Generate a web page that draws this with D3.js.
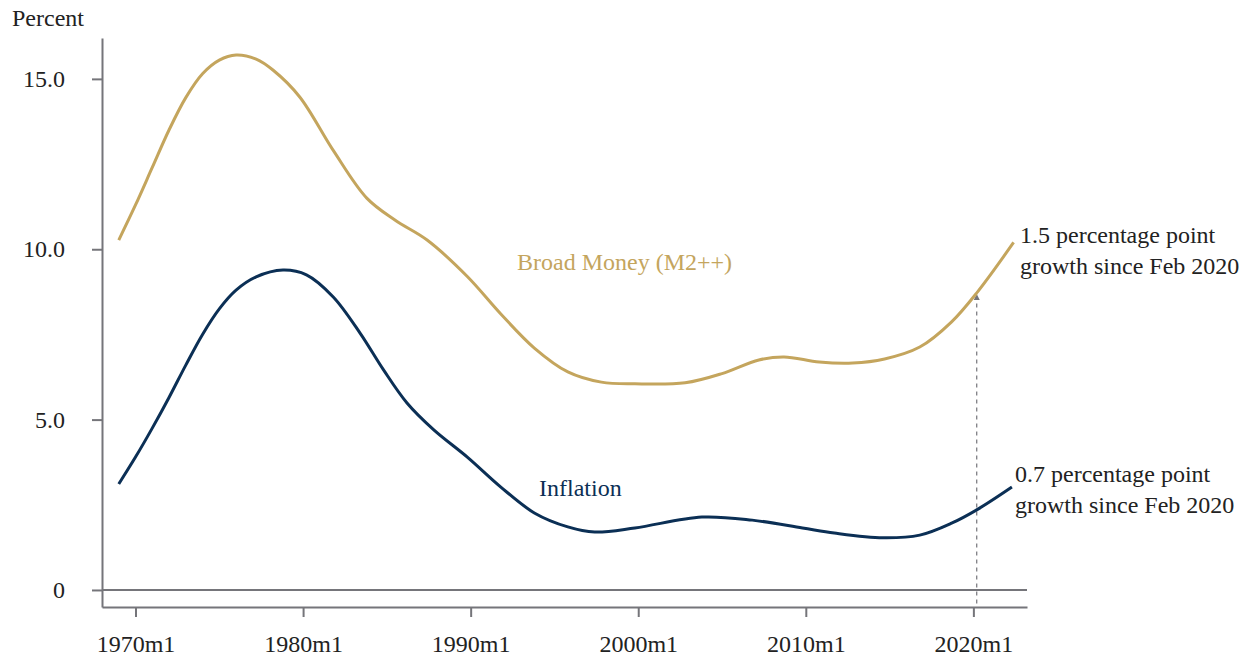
<!DOCTYPE html>
<html>
<head>
<meta charset="utf-8">
<script src="https://cdn.jsdelivr.net/npm/d3@7"></script>
<style>
  body { margin: 0; background: #fff; }
  text { font-family: "Liberation Serif", "DejaVu Serif", serif; }
</style>
</head>
<body>
<svg id="chart" width="1247" height="659"></svg>
<script>
// ***************** DATA ********************
var moneyDates = [1969.0, 1970.0, 1971.0, 1972.0, 1973.0, 1974.0, 1975.0, 1976.0, 1977.2, 1978.2,
	1979.8, 1981.8, 1983.8, 1985.5, 1987.4, 1989.8, 1991.8, 1993.8, 1995.8, 1997.8,
	1999.8, 2002.8, 2005.0, 2007.2, 2008.7, 2010.8, 2012.8, 2014.7, 2016.8, 2018.7,
	2020.25, 2022.4];
var moneyValues = [10.27, 11.3, 12.4, 13.5, 14.45, 15.15, 15.55, 15.7, 15.58, 15.26,
	14.47, 12.9, 11.5, 10.85, 10.27, 9.2, 8.1, 7.1, 6.4, 6.1,
	6.05, 6.08, 6.35, 6.75, 6.84, 6.69, 6.66, 6.78, 7.13, 7.87,
	8.75, 10.2];

var inflationDates = [1969.0, 1970.0, 1971.0, 1972.0, 1973.0, 1974.0, 1975.0, 1976.0, 1977.2, 1978.8,
	1980.2, 1981.8, 1983.4, 1984.8, 1986.2, 1987.8, 1989.8, 1991.8, 1993.8, 1995.8,
	1997.4, 1999.8, 2003.8, 2006.8, 2009.8, 2011.7, 2014.6, 2016.8, 2018.7, 2020.3,
	2022.3];
var inflationValues = [3.11, 3.9, 4.75, 5.65, 6.6, 7.5, 8.25, 8.8, 9.19, 9.39,
	9.25, 8.6, 7.54, 6.46, 5.49, 4.7, 3.9, 3.02, 2.26, 1.85,
	1.70, 1.82, 2.14, 2.05, 1.82, 1.67, 1.53, 1.61, 1.96, 2.38,
	3.02];

var xTicks = [1970, 1980, 1990, 2000, 2010, 2020];
var yTicks = [0, 5, 10, 15];
var febDate = 2020.2; // Feb 2020 marker

var seriesLabels = ["Broad Money (M2++)", "Inflation"];
var moneyNote = ["1.5 percentage point", "growth since Feb 2020"];
var inflationNote = ["0.7 percentage point", "growth since Feb 2020"];

// ***************** SETUP ********************
var gold = "#c4a55d", navy = "#0b2f55", grey = "#75757a", ink = "#222";
var fontSize = "24px";
var svg = d3.select("#chart");

var x = d3.scaleLinear().domain([1968, 2023.2]).range([102, 1027]);
var y = d3.scaleLinear().domain([-0.5, 16.2]).range([607, 38]);

// ************************ AXES *************************
svg.append("g")
	.attr("transform", "translate(0," + y(-0.5) + ")")
	.call(d3.axisBottom(x).tickValues(xTicks).tickFormat(function(d){ return d + "m1"; })
		.tickSize(10).tickSizeOuter(0).tickPadding(18));

svg.append("g")
	.attr("transform", "translate(" + x(1968) + ",0)")
	.call(d3.axisLeft(y).tickValues(yTicks).tickFormat(function(d){ return d === 0 ? "0" : d.toFixed(1); })
		.tickSize(10).tickSizeOuter(0).tickPadding(27));

svg.selectAll(".domain, .tick line").attr("stroke", grey).attr("stroke-width", 2);
svg.selectAll(".tick text").attr("fill", ink).style("font-size", fontSize)
	.style("font-family", '"Liberation Serif", serif');

// zero line
svg.append("line")
	.attr("x1", x(1968)).attr("x2", x(2023.2))
	.attr("y1", y(0)).attr("y2", y(0))
	.attr("stroke", grey).attr("stroke-width", 2);

svg.append("text")
	.attr("x", 12).attr("y", 26)
	.attr("fill", ink).style("font-size", fontSize)
	.text("Percent");

// ************************ FEB 2020 MARKER *************************
svg.append("defs").append("marker")
	.attr("id", "arrow")
	.attr("viewBox", "0 0 10 10")
	.attr("refX", 5).attr("refY", 5)
	.attr("markerWidth", 5).attr("markerHeight", 5)
	.attr("orient", "auto")
	.append("path")
	.attr("d", "M0,0 L10,5 L0,10 Z")
	.attr("fill", grey);

svg.append("line")
	.attr("x1", x(febDate)).attr("x2", x(febDate))
	.attr("y1", y(-0.4)).attr("y2", y(8.6))
	.attr("stroke", grey).attr("stroke-width", 1.2)
	.attr("stroke-dasharray", "4,4")
	.attr("marker-end", "url(#arrow)");

// ************************ LINES *************************
var line = d3.line()
	.x(function(d){ return x(d[0]); })
	.y(function(d){ return y(d[1]); })
	.curve(d3.curveCatmullRom.alpha(0.5));

var moneyData = d3.zip(moneyDates, moneyValues);
var inflationData = d3.zip(inflationDates, inflationValues);

svg.append("path").datum(moneyData)
	.attr("d", line).attr("fill", "none")
	.attr("stroke", gold).attr("stroke-width", 3);

svg.append("path").datum(inflationData)
	.attr("d", line).attr("fill", "none")
	.attr("stroke", navy).attr("stroke-width", 3);

// ************************ LABELS *************************
svg.append("text")
	.attr("x", 517).attr("y", 270)
	.attr("fill", gold).style("font-size", fontSize)
	.text(seriesLabels[0]);

svg.append("text")
	.attr("x", 539).attr("y", 496)
	.attr("fill", navy).style("font-size", fontSize)
	.text(seriesLabels[1]);

var addNote = function(lines, x0, y0){
	svg.append("text")
		.attr("x", x0).attr("y", y0)
		.attr("fill", ink).style("font-size", fontSize)
		.selectAll("tspan")
		.data(lines)
		.enter()
		.append("tspan")
		.attr("x", x0)
		.attr("dy", function(d, i){ return i === 0 ? 0 : 31; })
		.text(function(d){ return d; });
};
addNote(moneyNote, 1020, 243);
addNote(inflationNote, 1015, 482);
</script>
</body>
</html>
